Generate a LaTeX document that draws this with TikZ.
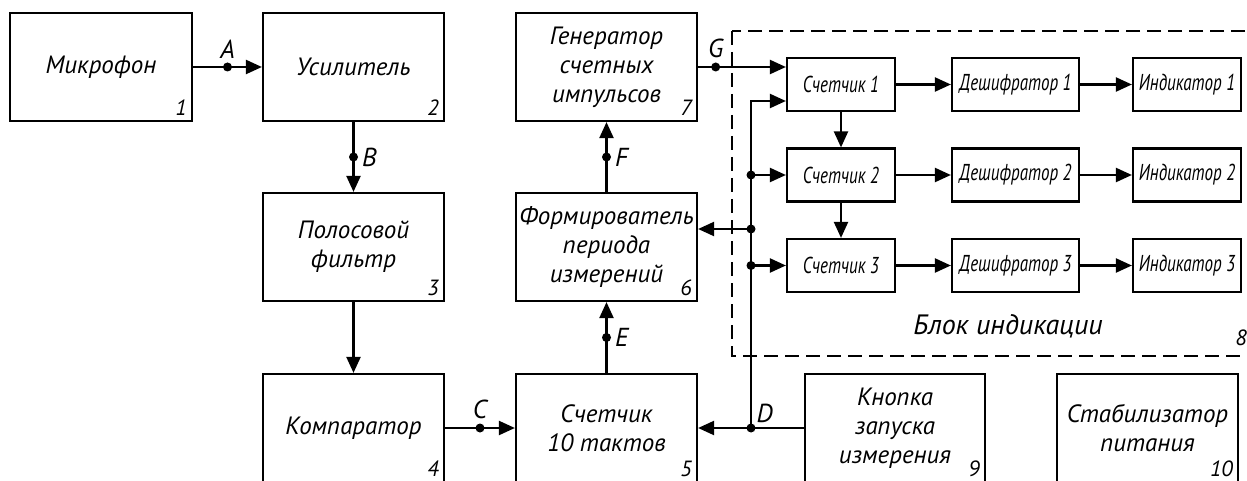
\documentclass[tikz,border=0pt]{standalone}
\usepackage{fontspec}
\setmainfont{PT Sans}
\newfontfamily\narrowfont{PT Sans}[FakeStretch=0.74]
\usetikzlibrary{arrows.meta}
\tikzset{
  blk/.style={draw, line width=2.2pt, minimum width=181pt, minimum height=108pt,
              align=center, inner sep=0pt, font=\fontsize{25}{29}\selectfont\itshape},
  sblk/.style={draw, line width=2.2pt, minimum height=53pt, inner sep=0pt,
               font=\narrowfont\fontsize{23}{26}\selectfont\itshape},
  num/.style={anchor=south east, inner sep=0pt, xshift=-6pt, yshift=6pt,
              font=\fontsize{22}{24}\selectfont\itshape},
  conn/.style={line width=2.2pt, -{Triangle[length=16pt,width=14pt]}},
  dot/.style={circle, fill, inner sep=0pt, minimum size=9pt},
  sig/.style={font=\fontsize{26}{28}\selectfont\itshape, inner sep=2pt},
}
\begin{document}
\begin{tikzpicture}[x=1pt,y=-1pt]
    \useasboundingbox (0,0) rectangle (1247,481);
    % main blocks
    \node[blk, minimum width=182pt] (b1) at (101,67) {Микрофон};
    \node[blk] (b2) at (353.5,67) {Усилитель};
    \node[blk] (b3) at (353.5,247) {Полосовой\\фильтр};
    \node[blk] (b4) at (353.5,428) {Компаратор};
    \node[blk] (b5) at (606.5,428) {Счетчик\\10 тактов};
    \node[blk] (b6) at (606.5,247) {Формирователь\\периода\\измерений};
    \node[blk] (b7) at (606.5,67) {Генератор\\счетных\\импульсов};
    \node[blk, minimum width=180pt] (b9) at (895,428) {Кнопка\\запуска\\измерения};
    \node[blk] (b10) at (1147.5,428) {Стабилизатор\\питания};
    \foreach \b/\n in {b1/1,b2/2,b3/3,b4/4,b5/5,b6/6,b7/7,b9/9,b10/10}
        \node[num] (n\n) at (\b.south east) {\n};

    % indication block
    \draw[line width=2.2pt, dash pattern=on 14pt off 7pt] (732,31) rectangle (1262,356);
    \foreach \i/\y in {1/84.5,2/175,3/265.5} {
        \node[sblk, minimum width=108pt] (c\i) at (841,\y) {Счетчик \i};
        \node[sblk, minimum width=127pt] (d\i) at (1015.5,\y) {Дешифратор \i};
        \node[sblk, minimum width=108pt] (i\i) at (1187,\y) {Индикатор \i};
        \draw[conn] (c\i) -- (d\i);
        \draw[conn] (d\i) -- (i\i);
    }
    \draw[conn] (c1) -- (c2);
    \draw[conn] (c2) -- (c3);
    \node[font=\fontsize{28}{30}\selectfont\itshape] (title) at (1008,326) {Блок индикации};
    \node[num, xshift=6pt] (n8) at (1247,352) {8};

    % signals
    \draw[conn] (b1) -- node[dot, label={[sig]above:A}] (pa) {} (b2);
    \draw[conn] (b2) -- node[dot, label={[sig]right:B}] (pb) {} (b3);
    \draw[conn] (b3) -- (b4);
    \draw[conn] (b4) -- node[dot, label={[sig]above:C}] (pc) {} (b5);
    \draw[conn] (b5) -- node[dot, label={[sig]right:E}] (pe) {} (b6);
    \draw[conn] (b6) -- node[dot, label={[sig]right:F}] (pf) {} (b7);
    \draw[conn] (b7.east) -- node[dot, pos=.2, label={[sig]above:G}] (pg) {} (b7.east -| c1.west);

    % start bus
    \draw[conn] (b9) -- (b5);
    \node[dot, label={[sig]above right:D}] (jd) at (751,428) {};
    \coordinate (c1in) at ([yshift=-16.5pt]c1.west);
    \coordinate (b6in) at ([yshift=18pt]b6.east);
    \draw[conn] (jd.center) |- (c1in);
    \draw[conn] (jd.center |- c2.west) node[dot] (j2) {} -- (c2.west);
    \draw[conn] (jd.center |- c3.west) node[dot] (j3) {} -- (c3.west);
    \draw[conn] (jd.center |- b6in) node[dot] (j6) {} -- (b6in);
\end{tikzpicture}
\end{document}
